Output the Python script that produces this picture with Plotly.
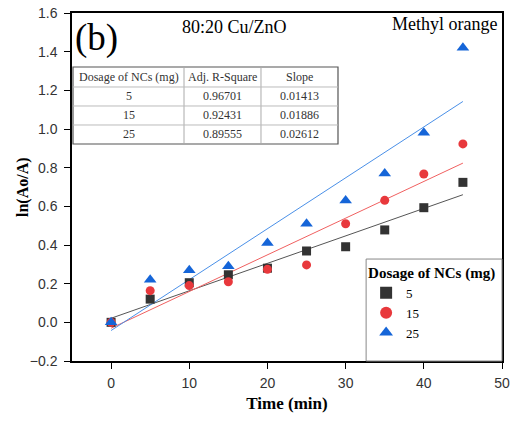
import numpy as np
import plotly.graph_objects as go

time_min = [0, 5, 10, 15, 20, 25, 30, 35, 40, 45]
ln_5mg = [0.0, 0.12, 0.205, 0.246, 0.28, 0.369, 0.391, 0.478, 0.593, 0.724]
ln_15mg = [0.0, 0.164, 0.19, 0.21, 0.274, 0.297, 0.51, 0.631, 0.767, 0.923]
ln_25mg = [0.0, 0.22, 0.27, 0.29, 0.41, 0.51, 0.63, 0.77, 0.98, 1.42]

table_header = ["Dosage of NCs (mg)", "Adj. R-Square", "Slope"]
dosage_labels = ["5", "15", "25"]
adj_r2 = ["0.96701", "0.92431", "0.89555"]
slopes = ["0.01413", "0.01886", "0.02612"]

series = [ln_5mg, ln_15mg, ln_25mg]
marker_colors = ["#333333", "#e8383c", "#1565d8"]
line_colors = ["#555555", "#f06060", "#4a90e8"]
symbols = ["square", "circle", "triangle-up"]
msizes = [9, 9, 11]

SERIF = "Liberation Serif, Times New Roman, serif"
SANS = "Liberation Sans, Arial, sans-serif"

fig = go.Figure()

x = np.array(time_min, dtype=float)
for ys, lc in zip(series, line_colors):
    k, b = np.polyfit(x, np.array(ys), 1)
    xf = np.array([0, 45.0])
    fig.add_trace(go.Scatter(x=xf, y=k * xf + b, mode="lines",
                             line=dict(color=lc, width=1), showlegend=False,
                             hoverinfo="skip"))

for ys, name, mc, sym, ms in zip(series, dosage_labels, marker_colors, symbols, msizes):
    fig.add_trace(go.Scatter(x=time_min, y=ys, mode="markers", name=name,
                             marker=dict(color=mc, symbol=sym, size=ms)))

# ---- inset table drawn with shapes + annotations (paper coords) ----
col_edges = [0.0023, 0.2605, 0.4395, 0.6186]
row_edges = [0.8448, 0.7874, 0.7328, 0.6782, 0.6236]
shapes = []
shapes.append(dict(type="rect", xref="paper", yref="paper",
                   x0=col_edges[0], x1=col_edges[-1], y0=row_edges[-1], y1=row_edges[0],
                   line=dict(color="#555555", width=1.2), fillcolor="white", layer="below"))
for cx in col_edges[1:-1]:
    shapes.append(dict(type="line", xref="paper", yref="paper", x0=cx, x1=cx,
                       y0=row_edges[-1], y1=row_edges[0], line=dict(color="#aaaaaa", width=1)))
for ry in row_edges[1:-1]:
    shapes.append(dict(type="line", xref="paper", yref="paper", x0=col_edges[0], x1=col_edges[-1],
                       y0=ry, y1=ry, line=dict(color="#bbbbbb", width=1)))
# legend box
shapes.append(dict(type="rect", xref="paper", yref="paper", x0=0.684, x1=1.0, y0=0.0, y1=0.293,
                   line=dict(color="#888888", width=1), fillcolor="rgba(255,255,255,0)"))

annotations = []
columns = [dosage_labels, adj_r2, slopes]
for ci in range(3):
    cxm = (col_edges[ci] + col_edges[ci + 1]) / 2
    rows = [table_header[ci]] + columns[ci]
    for ri, txt in enumerate(rows):
        rym = (row_edges[ri] + row_edges[ri + 1]) / 2
        annotations.append(dict(text=txt, xref="paper", yref="paper", x=cxm, y=rym,
                                xanchor="center", yanchor="middle", showarrow=False,
                                font=dict(family=SERIF, size=12, color="#333333")))

annotations += [
    dict(text="(b)", xref="paper", yref="paper", x=0.002, y=0.995, xanchor="left", yanchor="top",
         showarrow=False, font=dict(family=SERIF, size=37, color="black")),
    dict(text="80:20 Cu/ZnO", xref="paper", yref="paper", x=0.379, y=0.96, xanchor="center",
         yanchor="middle", showarrow=False, font=dict(family=SERIF, size=18, color="black")),
    dict(text="Methyl orange", xref="paper", yref="paper", x=0.992, y=0.968, xanchor="right",
         yanchor="middle", showarrow=False, font=dict(family=SERIF, size=18, color="black")),
    dict(text="<b>ln(Ao/A)</b>", xref="paper", yref="paper", x=-0.114, y=0.5, textangle=-90,
         xanchor="center", yanchor="middle", showarrow=False,
         font=dict(family=SERIF, size=16, color="black")),
]

fig.update_layout(
    width=512, height=421,
    margin=dict(l=72, r=10, t=13, b=60),
    paper_bgcolor="white", plot_bgcolor="white",
    font=dict(family=SANS, size=14, color="#333333"),
    xaxis=dict(range=[-5, 50], tickvals=[0, 10, 20, 30, 40, 50], automargin=False,
               showgrid=False, zeroline=False, showline=True, linecolor="black",
               linewidth=1.5, mirror=True, ticks="outside", ticklen=6,
               tickcolor="black", ticklabelstandoff=2,
               title=dict(text="<b>Time (min)</b>", font=dict(family=SERIF, size=17, color="black"),
                          standoff=8)),
    yaxis=dict(range=[-0.2, 1.6], tickvals=[-0.2, 0, 0.2, 0.4, 0.6, 0.8, 1.0, 1.2, 1.4, 1.6],
               tickformat=".1f", automargin=False,
               showgrid=False, zeroline=False, showline=True, linecolor="black",
               linewidth=1.5, mirror=True, ticks="outside", ticklen=6,
               tickcolor="black", ticklabelstandoff=4),
    legend=dict(x=0.684, y=0.295, xanchor="left", yanchor="top",
                bgcolor="rgba(0,0,0,0)", borderwidth=0,
                title=dict(text="<b>Dosage of NCs (mg)</b>", font=dict(family=SERIF, size=15, color="black")),
                font=dict(family=SERIF, size=13, color="black"),
                tracegroupgap=0, itemsizing="constant"),
    shapes=shapes,
    annotations=annotations,
)

fig.write_html("out.html", config={"displayModeBar": False},
               post_script="document.body.style.margin='0';document.documentElement.style.overflow='hidden';")
